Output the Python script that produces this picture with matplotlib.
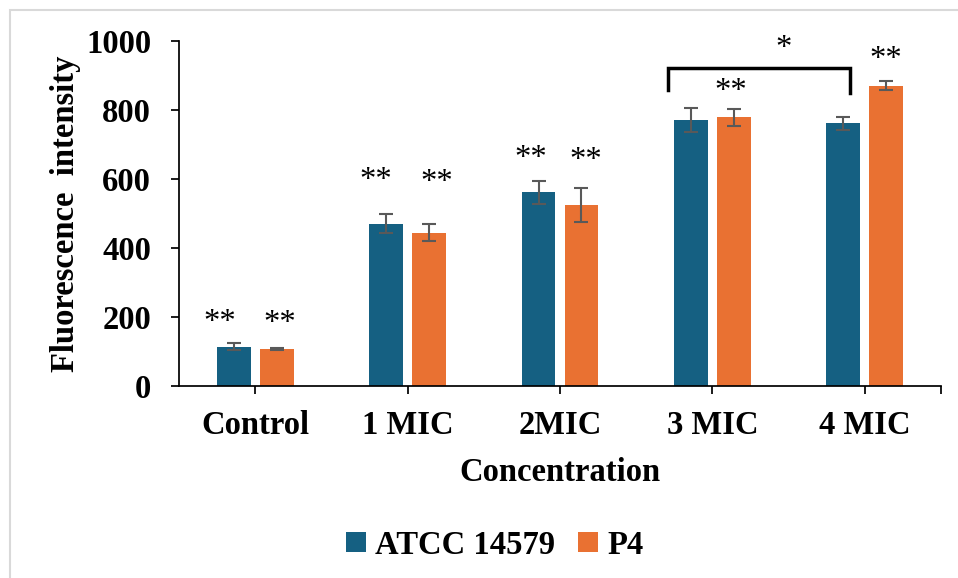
import numpy as np
import matplotlib.pyplot as plt
from matplotlib.patches import Rectangle

# data
categories = ['Control', '1 MIC', '2MIC', '3 MIC', '4 MIC']
atcc_mean = [114, 471, 561, 771, 761]
atcc_err = [10, 28, 33, 35, 20]
p4_mean = [106, 444, 524, 779, 871]
p4_err = [3, 25, 49, 25, 14]

# significance marks: (x in category units, y in data units)
star_x = [-0.23, 0.16, 0.79, 1.19, 1.81, 2.17, 3.12, 4.14]
star_y = [183, 180, 595, 589, 658, 653, 853, 945]
single_star = (3.47, 978)
bracket_x = [2.71, 3.90]
bracket_top = 923
bracket_legs = [858, 849]

BLUE = '#156082'
ORANGE = '#E97132'
FONT = ['Liberation Serif', 'DejaVu Serif']
FS = 23.5

plt.rcParams['font.family'] = FONT
plt.rcParams['font.weight'] = 'bold'

fig = plt.figure(figsize=(9.58, 5.78), dpi=100)
fig.patches.append(Rectangle((10 / 958, -0.05), 1.2, 1 - 10 / 578 + 0.05,
                             transform=fig.transFigure, fill=False,
                             edgecolor='#d9d9d9', linewidth=1.5))
ax = fig.add_axes([179 / 958, 1 - 386 / 578, (941 - 179) / 958, (386 - 41) / 578])

x = np.arange(len(categories))
w = 0.222
off = 0.141
err_kw = dict(ecolor='#595959', elinewidth=1.5, capsize=5, capthick=1.5)
ax.bar(x - off, atcc_mean, w, yerr=atcc_err, color=BLUE, label='ATCC 14579',
       error_kw=err_kw)
ax.bar(x + off, p4_mean, w, yerr=p4_err, color=ORANGE, label='P4',
       error_kw=err_kw)

for sx, sy in zip(star_x, star_y):
    ax.text(sx, sy, '**', ha='center', va='center', fontsize=FS,
            fontweight='normal')
ax.text(single_star[0], single_star[1], '*', ha='center', va='center',
        fontsize=FS, fontweight='normal', clip_on=False)
ax.plot([bracket_x[0], bracket_x[0], bracket_x[1], bracket_x[1]],
        [bracket_legs[0], bracket_top, bracket_top, bracket_legs[1]],
        color='black', linewidth=2.5, solid_joinstyle='miter')

ax.set_xlim(-0.5, len(categories) - 0.5)
ax.set_ylim(0, 1000)
ax.set_yticks(range(0, 1001, 200))
ax.set_xticks(x)
ax.set_xticklabels(categories)
ax.set_xticks([len(categories) - 0.5], minor=True)
ax.tick_params(axis='both', which='both', direction='out', length=6,
               width=1.25, labelsize=FS)
ax.tick_params(axis='y', pad=14)
ax.tick_params(axis='x', pad=11)
for lbl in ax.get_xticklabels() + ax.get_yticklabels():
    lbl.set_fontweight('bold')

for side in ['top', 'right']:
    ax.spines[side].set_visible(False)
for side in ['left', 'bottom']:
    ax.spines[side].set_linewidth(1.25)

ax.set_ylabel('Fluorescence  intensity', fontsize=FS, fontweight='bold',
              labelpad=4)
ax.set_xlabel('Concentration', fontsize=FS, fontweight='bold', labelpad=12)

fig.legend(loc='center', bbox_to_anchor=(495 / 958, 1 - 545 / 578), ncol=2,
           frameon=False, prop={'family': FONT, 'weight': 'bold', 'size': FS},
           handlelength=0.6, handleheight=0.6, handletextpad=0.3,
           columnspacing=0.7)

fig.savefig('out.png', dpi=100)
